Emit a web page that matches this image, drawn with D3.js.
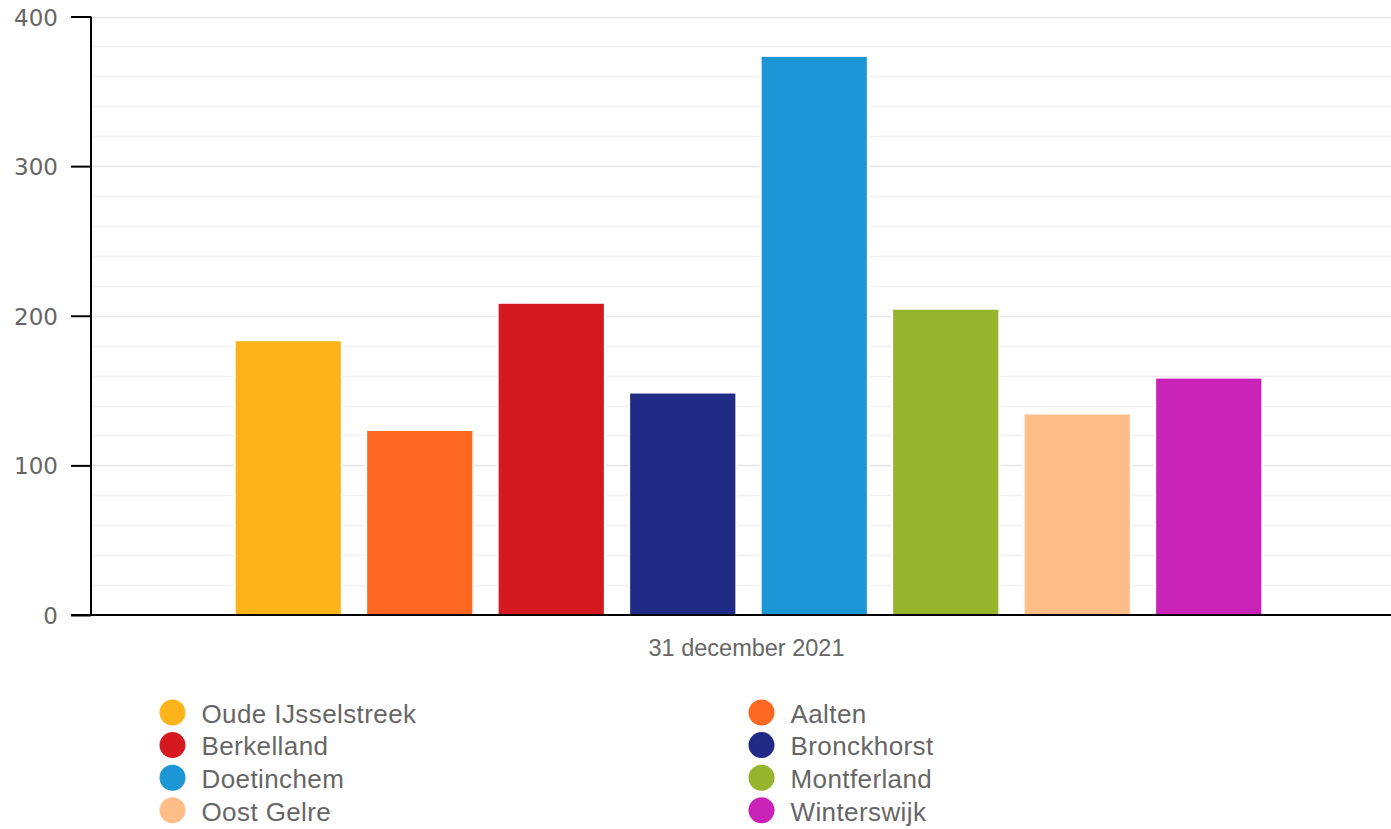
<!DOCTYPE html>
<html>
<head>
<meta charset="utf-8">
<script src="https://cdn.jsdelivr.net/npm/d3@7"></script>
<style>
  html, body { margin: 0; padding: 0; background: #fff; }
  svg { display: block; }
</style>
</head>
<body>
<svg id="chart" width="1391" height="829"></svg>
<script>
const category = "31 december 2021";
const seriesNames = ["Oude IJsselstreek", "Aalten", "Berkelland", "Bronckhorst", "Doetinchem", "Montferland", "Oost Gelre", "Winterswijk"];
const seriesValues = [183, 123, 208, 148, 373, 204, 134, 158];
const seriesColors = ["#FDB31A", "#FF6823", "#D41920", "#202B86", "#1C96D4", "#96B42C", "#FFBE87", "#C822B6"];
const yTicks = [0, 100, 200, 300, 400];
const yMinorTicks = [20, 40, 60, 80, 120, 140, 160, 180, 220, 240, 260, 280, 320, 340, 360, 380];

(function () {
const svg = d3.select("#chart");
const mLeft = 91, mRight = 1406, mTop = 16.5, mBottom = 615;

const y = d3.scaleLinear().domain([0, 400]).range([mBottom, mTop]);
const x0 = d3.scaleBand().domain([category]).range([mLeft, mRight]);
const x1 = d3.scaleBand().domain(seriesNames)
  .range([x0.bandwidth() * 0.1, x0.bandwidth() * 0.9])
  .paddingInner(0.2).paddingOuter(0.1);

// grid
svg.append("g").selectAll("line").data(yMinorTicks).join("line")
  .attr("x1", mLeft).attr("x2", 1391)
  .attr("y1", d => Math.round(y(d)) + 0.5).attr("y2", d => Math.round(y(d)) + 0.5)
  .attr("stroke", "#f0f0f0").attr("stroke-width", 1.5);
svg.append("g").selectAll("line").data(yTicks.filter(d => d > 0)).join("line")
  .attr("x1", mLeft).attr("x2", 1391)
  .attr("y1", d => Math.round(y(d)) + 0.5).attr("y2", d => Math.round(y(d)) + 0.5)
  .attr("stroke", "#e6e6e6").attr("stroke-width", 1.5);

// bars
const g = svg.append("g").attr("transform", `translate(${x0(category)},0)`);
const data = seriesNames.map((n, i) => ({ name: n, value: seriesValues[i], color: seriesColors[i] }));
g.append("g").selectAll("rect").data(data).join("rect")
  .attr("x", d => x1(d.name) - 2)
  .attr("y", d => y(d.value) - 1)
  .attr("width", x1.bandwidth() + 4)
  .attr("height", d => y(0) - y(d.value) + 1)
  .attr("fill", "#fff");
g.append("g").selectAll("rect").data(data).join("rect")
  .attr("x", d => x1(d.name))
  .attr("y", d => y(d.value))
  .attr("width", x1.bandwidth())
  .attr("height", d => y(0) - y(d.value))
  .attr("fill", d => d.color);

// y axis
const yAxis = d3.axisLeft(y).tickValues(yTicks).tickSize(20).tickPadding(13);
const ya = svg.append("g").attr("transform", `translate(${mLeft},0)`).call(yAxis);
ya.select(".domain").attr("stroke", "#000").attr("stroke-width", 2).attr("d", `M0,${mTop}V${mBottom}`);
ya.selectAll(".tick line").attr("stroke", "#000").attr("stroke-width", 2);
ya.selectAll(".tick text").attr("fill", "#666").attr("dy", "0.37em")
  .style("font-family", "DejaVu Sans").style("font-size", "23px");

// x axis baseline
svg.append("line").attr("x1", mLeft - 20).attr("x2", 1391)
  .attr("y1", y(0)).attr("y2", y(0)).attr("stroke", "#000").attr("stroke-width", 2);

// x label
svg.append("text").attr("x", x0(category) + x0.bandwidth() / 2 - 2).attr("y", 656)
  .attr("text-anchor", "middle").attr("fill", "#666")
  .style("font-family", "Liberation Sans, Arial").style("font-size", "23.5px")
  .text(category);

// legend
const legend = svg.append("g");
const items = legend.selectAll("g").data(data).join("g")
  .attr("transform", (d, i) => `translate(${i % 2 === 0 ? 172.5 : 761.5},${712.5 + Math.floor(i / 2) * 32.6})`);
items.append("circle").attr("r", 13).attr("fill", d => d.color);
items.append("text").attr("x", 29).attr("y", 10.3)
  .attr("fill", "#666")
  .style("font-family", "Liberation Sans, Arial").style("font-size", "26px")
  .style("letter-spacing", "0.4px")
  .text(d => d.name);
})();
</script>
</body>
</html>
